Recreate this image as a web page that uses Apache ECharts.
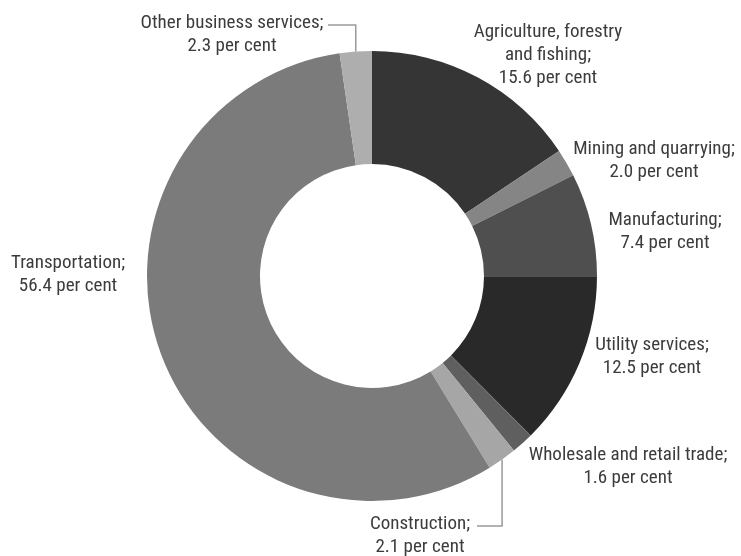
<!DOCTYPE html>
<html>
<head>
<meta charset="utf-8">
<script src="https://cdn.jsdelivr.net/npm/echarts@6/dist/echarts.min.js"></script>
<style>
  html, body { margin: 0; padding: 0; background: #ffffff; }
  #chart { width: 741px; height: 556px; }
</style>
</head>
<body>
<div id="chart"></div>
<script>
// Shares of the total by economic activity, per cent
const categories = [
  'Agriculture, forestry\nand fishing',
  'Mining and quarrying',
  'Manufacturing',
  'Utility services',
  'Wholesale and retail trade',
  'Construction',
  'Transportation',
  'Other business services'
];
const shares = [15.6, 2.0, 7.4, 12.5, 1.6, 2.1, 56.4, 2.3];
const sliceColors = ['#353535', '#858585', '#4f4f4f', '#292929', '#5f5f5f', '#a6a6a6', '#7b7b7b', '#aeaeae'];

// Label block centres; elbow labels also carry the y of the horizontal run and its far end
const labelPlacement = [
  { x: 548, y: 55 },
  { x: 654, y: 161 },
  { x: 665, y: 232 },
  { x: 652, y: 357 },
  { x: 628, y: 467 },
  { x: 420, y: 536, lineY: 526, lineEndX: 477 },
  { x: 68,  y: 275 },
  { x: 232, y: 35,  lineY: 25,  lineEndX: 328 }
];

const chart = echarts.init(document.getElementById('chart'), null, { renderer: 'canvas' });

const data = categories.map((name, i) => ({
  name: name,
  value: shares[i],
  itemStyle: { color: sliceColors[i] },
  labelLine: { show: labelPlacement[i].lineY != null }
}));

chart.setOption({
  backgroundColor: '#ffffff',
  animation: false,
  series: [{
    type: 'pie',
    center: [372, 276],
    radius: [112, 225],
    startAngle: 90,
    clockwise: true,
    avoidLabelOverlap: false,
    silent: true,
    data: data,
    label: {
      show: true,
      position: 'outside',
      formatter: p => p.name + ';\n' + p.value.toFixed(1) + ' per cent',
      color: '#3c3c3c',
      // the weight slot also carries the font-stretch keyword for a narrow face
      fontWeight: 'condensed',
      fontFamily: 'Roboto, "Open Sans", sans-serif',
      fontSize: 19,
      lineHeight: 23
    },
    labelLine: {
      show: false,
      lineStyle: { color: '#9a9a9a', width: 1.5 }
    },
    labelLayout: function (params) {
      const pos = labelPlacement[params.dataIndex];
      const out = {
        x: pos.x,
        y: pos.y,
        align: 'center',
        verticalAlign: 'middle',
        hideOverlap: false
      };
      if (pos.lineY != null && params.labelLinePoints) {
        const start = params.labelLinePoints[0];
        out.labelLinePoints = [
          [start[0], start[1]],
          [start[0], pos.lineY],
          [pos.lineEndX, pos.lineY]
        ];
      }
      return out;
    }
  }]
});
</script>
</body>
</html>
